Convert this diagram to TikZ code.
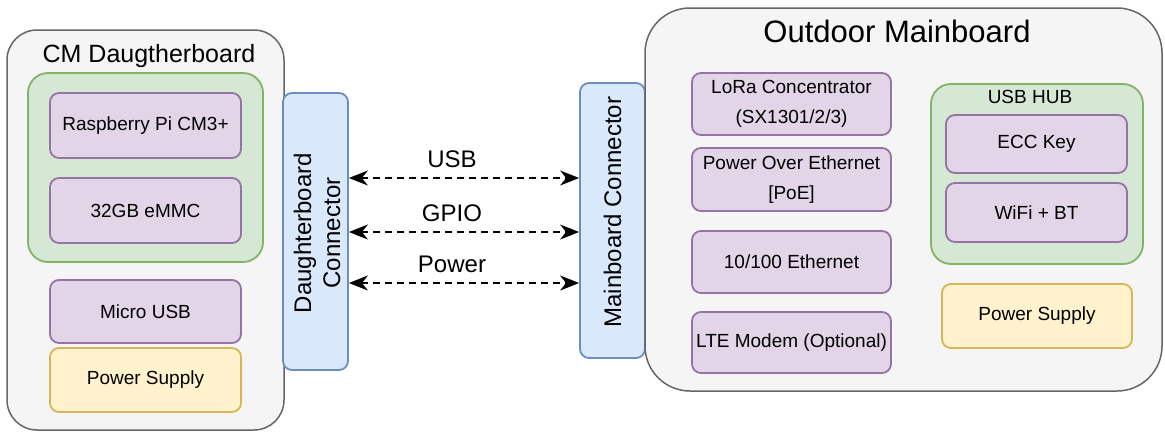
\documentclass[tikz,border=0pt]{standalone}
\usepackage{fontspec}
\setmainfont{Liberation Sans}
\usetikzlibrary{arrows.meta}

\definecolor{grayfill}{HTML}{F5F5F5}
\definecolor{grayline}{HTML}{666666}
\definecolor{greenfill}{HTML}{D5E8D4}
\definecolor{greenline}{HTML}{82B366}
\definecolor{purplefill}{HTML}{E1D5E7}
\definecolor{purpleline}{HTML}{9673A6}
\definecolor{yellowfill}{HTML}{FFF2CC}
\definecolor{yellowline}{HTML}{D6B656}
\definecolor{bluefill}{HTML}{DAE8FC}
\definecolor{blueline}{HTML}{6C8EBF}

\tikzset{
  board/.style={draw=grayline, fill=grayfill, line width=1.5pt, inner sep=0pt},
  group/.style={draw=greenline, fill=greenfill, line width=1.8pt, rounded corners=20pt, inner sep=0pt},
  part/.style={draw=purpleline, fill=purplefill, line width=1.8pt, rounded corners=9pt,
    inner sep=0pt, align=center, font=\fontsize{19}{30}\selectfont},
  supply/.style={draw=yellowline, fill=yellowfill, line width=1.8pt, rounded corners=9pt,
    inner sep=0pt, align=center, font=\fontsize{19}{30}\selectfont},
  conn/.style={draw=blueline, fill=bluefill, line width=1.8pt, rounded corners=9pt, inner sep=0pt},
  conntext/.style={rotate=90, align=center, inner sep=0pt, font=\fontsize{24}{29}\selectfont},
  title/.style={anchor=base, inner sep=0pt},
  link/.style={line width=1.6pt, dash pattern=on 7pt off 5pt,
    arrows={Stealth[length=19pt,width=15pt,inset=6pt]-Stealth[length=19pt,width=15pt,inset=6pt]}},
  linklabel/.style={midway, anchor=base, yshift=11pt, xshift=-12pt, inner sep=0pt,
    font=\fontsize{24}{29}\selectfont}
}

\begin{document}
\begin{tikzpicture}[x=1pt, y=-1pt]
\useasboundingbox[fill=white] (0,0) rectangle (1165,432);

% ---- CM daughterboard ----
\node[board, rounded corners=30pt, minimum width=277pt, minimum height=400pt] (cm) at (145.5,230) {};
\node[title, font=\fontsize{25}{30}\selectfont] (cmtitle) at (149,62) {CM Daugtherboard};
\node[group, minimum width=235pt, minimum height=189pt] (core) at (145.5,167.5) {};
\node[part, minimum width=191pt, minimum height=65pt] (rpi) at (145.5,125.5) {Raspberry Pi CM3+};
\node[part, minimum width=191pt, minimum height=65pt] (emmc) at (145.5,210.5) {32GB eMMC};
\node[part, minimum width=191pt, minimum height=63pt] (musb) at (145.5,311.5) {Micro USB};
\node[supply, minimum width=191pt, minimum height=64pt] (psl) at (145.5,380) {Power Supply};

% ---- connectors ----
\node[conn, minimum width=65pt, minimum height=277pt] (dc) at (315.5,231.5) {};
\node[conntext] (dctext) at (317,233) {Daughterboard\\Connector};
\node[conn, minimum width=65pt, minimum height=275pt] (mc) at (612.5,220.5) {};
\node[conntext] (mctext) at (612.5,212) {Mainboard Connector};

% ---- outdoor mainboard ----
\node[board, rounded corners=45pt, minimum width=517pt, minimum height=383pt] (mb) at (903.5,199.5) {};
\node[title, font=\fontsize{31}{37}\selectfont] (mbtitle) at (897,42) {Outdoor Mainboard};
\node[part, minimum width=199pt, minimum height=62pt] (lora) at (791.5,104) {LoRa Concentrator\\(SX1301/2/3)};
\node[part, minimum width=199pt, minimum height=63pt] (poe) at (791.5,179.5) {Power Over Ethernet\\{}[PoE]};
\node[part, minimum width=199pt, minimum height=62pt] (eth) at (791.5,262) {10/100 Ethernet};
\node[part, minimum width=199pt, minimum height=61pt] (lte) at (791.5,342.5) {LTE Modem (Optional)};
\node[group, minimum width=212pt, minimum height=180pt] (hub) at (1037,174) {};
\node[title, font=\fontsize{19}{23}\selectfont] (hubtitle) at (1030,103) {USB HUB};
\node[part, minimum width=181pt, minimum height=58pt] (ecc) at (1036.5,144) {ECC Key};
\node[part, minimum width=181pt, minimum height=59pt] (wifi) at (1036.5,212.5) {WiFi + BT};
\node[supply, minimum width=190pt, minimum height=64pt] (psr) at (1037,316) {Power Supply};

% ---- links between the two connectors ----
\coordinate (usbrow) at (0,178);
\coordinate (gpiorow) at (0,232);
\coordinate (powrow) at (0,283);
\draw[link] (dc.east |- usbrow) -- node[linklabel] {USB} (mc.west |- usbrow);
\draw[link] (dc.east |- gpiorow) -- node[linklabel] {GPIO} (mc.west |- gpiorow);
\draw[link] (dc.east |- powrow) -- node[linklabel] {Power} (mc.west |- powrow);
\end{tikzpicture}
\end{document}
